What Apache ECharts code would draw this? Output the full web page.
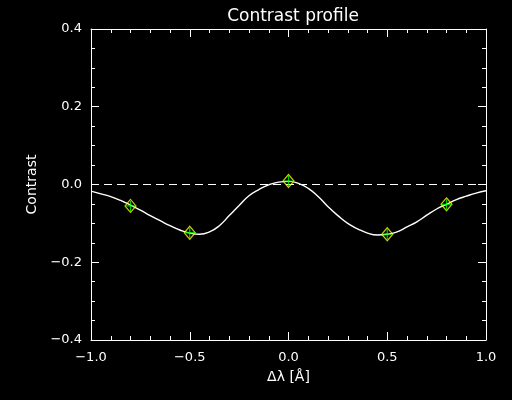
<!DOCTYPE html>
<html><head><meta charset="utf-8">
<script src="https://cdn.jsdelivr.net/npm/echarts@6/dist/echarts.min.js"></script>
<style>html,body{margin:0;padding:0;background:#000;}#c{width:512px;height:400px;}</style>
</head><body><div id="c"></div>
<script>
const curveX = [-1.0,-0.95,-0.9,-0.85,-0.8,-0.75,-0.7,-0.65,-0.6,-0.55,-0.5,-0.45,-0.4,-0.35,-0.3,-0.25,-0.2,-0.15,-0.1,-0.05,0.0,0.05,0.1,0.15,0.2,0.25,0.3,0.35,0.4,0.45,0.5,0.55,0.6,0.65,0.7,0.75,0.8,0.85,0.9,0.95,1.0];
const curveY = [-0.017,-0.024,-0.031,-0.041,-0.053,-0.066,-0.080,-0.093,-0.106,-0.117,-0.125,-0.128,-0.122,-0.106,-0.080,-0.054,-0.029,-0.013,-0.001,0.006,0.008,0.003,-0.010,-0.031,-0.057,-0.080,-0.100,-0.114,-0.125,-0.130,-0.128,-0.122,-0.109,-0.096,-0.079,-0.063,-0.051,-0.039,-0.030,-0.022,-0.016];
const pointX = [-0.8,-0.5,0.0,0.5,0.8];
const pointY = [-0.055,-0.124,0.009,-0.128,-0.051];
const xTicks = [-1.0,-0.5,0.0,0.5,1.0];
const yTicks = [-0.4,-0.2,0.0,0.2,0.4];

const fmt = v => (v < 0 ? '\u2212' : '') + Math.abs(v).toFixed(1);
const font = 'DejaVu Sans';
const chart = echarts.init(document.getElementById('c'), null, {renderer:'canvas'});
const line = {show:true,onZero:false,lineStyle:{color:'#fff',width:1}};
const tick = {show:true,inside:true,length:8,lineStyle:{color:'#fff'}};
chart.setOption({
  backgroundColor:'#000',
  animation:false,
  title:{text:'Contrast profile',left:288,top:3,textAlign:'center',
    textStyle:{color:'#fff',fontFamily:font,fontWeight:'normal',fontSize:17}},
  grid:{left:91,right:26,top:29,bottom:60},
  xAxis:[
    {type:'value',min:-1,max:1,interval:0.5,position:'bottom',
      name:'\u0394\u03bb [\u00c5]',nameLocation:'middle',nameGap:30,
      nameTextStyle:{color:'#fff',fontFamily:font,fontSize:14},
      axisLine:line,axisTick:tick,splitLine:{show:false},
      axisLabel:{color:'#fff',fontFamily:font,fontSize:13,margin:11,formatter:fmt},
      minorTick:{show:true,splitNumber:5,length:4,lineStyle:{color:'#fff'}}},
    {type:'value',min:-1,max:1,interval:0.5,position:'top',
      axisLine:line,axisTick:tick,splitLine:{show:false},
      axisLabel:{show:false},
      minorTick:{show:true,splitNumber:5,length:4,lineStyle:{color:'#fff'}}}
  ],
  yAxis:[
    {type:'value',min:-0.4,max:0.4,interval:0.2,position:'left',
      name:'Contrast',nameLocation:'middle',nameGap:52,nameRotate:90,
      nameTextStyle:{color:'#fff',fontFamily:font,fontSize:14},
      axisLine:line,axisTick:tick,splitLine:{show:false},
      axisLabel:{color:'#fff',fontFamily:font,fontSize:13,margin:9,formatter:fmt},
      minorTick:{show:true,splitNumber:4,length:4,lineStyle:{color:'#fff'}}},
    {type:'value',min:-0.4,max:0.4,interval:0.2,position:'right',
      axisLine:line,axisTick:tick,splitLine:{show:false},
      axisLabel:{show:false},
      minorTick:{show:true,splitNumber:4,length:4,lineStyle:{color:'#fff'}}}
  ],
  series:[
    {type:'line',data:[[-1,0],[1,0]],symbol:'none',
      lineStyle:{color:'#fff',width:1,type:[8,5]},z:1},
    {type:'line',data:curveX.map((x,i)=>[x,curveY[i]]),smooth:true,symbol:'none',
      lineStyle:{color:'#fff',width:1.4},z:2},
    {type:'scatter',data:pointX.map((x,i)=>[x,pointY[i]]),symbol:'diamond',symbolSize:[11,13],
      itemStyle:{color:'rgba(0,0,0,0)',borderColor:'#ffff00',borderWidth:1.2},z:3},
    {type:'scatter',data:pointX.map((x,i)=>[x,pointY[i]]),
      symbol:'path://M4.4,0 H5.6 V4.4 H10 V5.6 H5.6 V10 H4.4 V5.6 H0 V4.4 H4.4 Z',symbolSize:[10,10],
      itemStyle:{color:'#00ff00'},z:4}
  ]
});
</script></body></html>
